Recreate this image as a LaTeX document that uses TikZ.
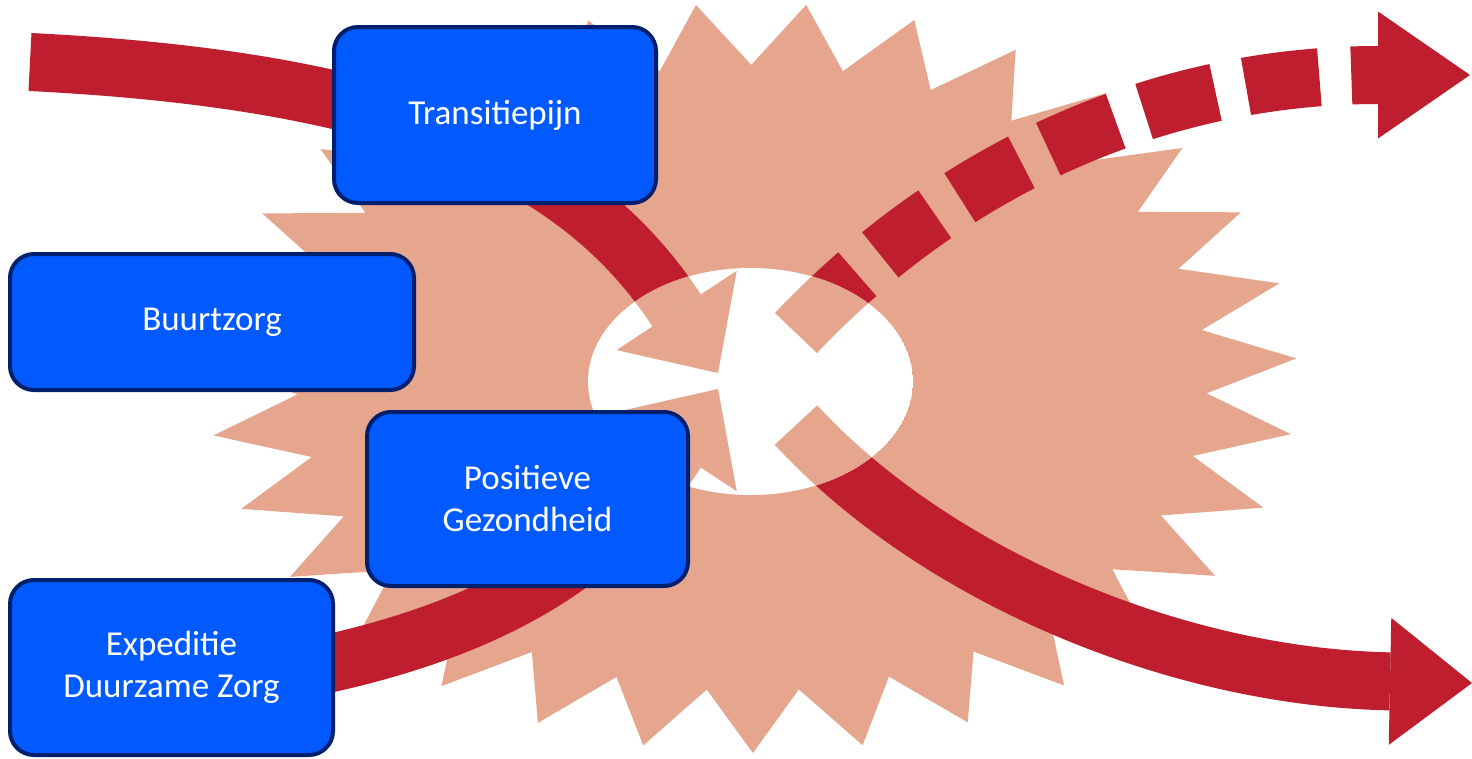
\documentclass[tikz,border=0pt]{standalone}
\usepackage{fontspec}
\setmainfont{Carlito}
\usetikzlibrary{arrows.meta}
\definecolor{flame}{RGB}{190,30,45}
\definecolor{burst}{RGB}{230,166,142}
\definecolor{cardfill}{RGB}{0,90,255}
\definecolor{cardline}{RGB}{0,32,110}

\newcommand{\drawflows}[1]{%
  \draw[flow,color=#1,-{Triangle[length=75pt,width=144pt,line width=0pt]}] (topIn) .. controls (410,81) and (580,164) .. (topHit);
  \draw[flow,color=#1,-{Triangle[length=75pt,width=144pt,line width=0pt]}] (lowIn) .. controls (410,681) and (580,598) .. (lowHit);
  \draw[flow,color=#1,dash pattern=on 85pt off 30pt on 68pt off 30pt on 71pt off 30pt on 73pt off 30pt on 74pt off 31pt on 74pt off 32pt on 200pt,-{Triangle[length=92pt,width=127pt,line width=0pt]}] (upFrom) .. controls (960,160) and (1170,75) .. (upTo);
  \draw[flow,color=#1,-{Triangle[length=82pt,width=127pt,line width=0pt]}] (downFrom) .. controls (932,573) and (1172,677) .. (downTo);
}

\begin{document}
\begin{tikzpicture}[x=1pt,y=-1pt,
    flow/.style={line width=58pt},
    card/.style={draw=cardline,line width=4pt,fill=cardfill,rounded corners=24pt,text=white,
      font=\fontsize{35}{42}\selectfont,align=center,inner sep=0pt}]
    \useasboundingbox (0,0) rectangle (1472,758);
    \fill[white] (0,0) rectangle (1472,758);
    \coordinate (eye) at (750.5,381.5);
    \coordinate (topIn) at (30,62);
    \coordinate (topHit) at (718,373);
    \coordinate (lowIn) at (30,700);
    \coordinate (lowHit) at (718,389);
    \coordinate (upFrom) at (796,333);
    \coordinate (upTo) at (1470,75);
    \coordinate (downFrom) at (796,425);
    \coordinate (downTo) at (1472,683);
    \fill[burst] (1296.3,358.4) \foreach \k [evaluate=\k as \r using {1-0.165*mod(\k,2)}] in {1,...,61} {
        -- ({752+545*\r*cos(-3+\k*180/31)},{378+375*\r*sin(-3+\k*180/31)})} -- cycle;
    \drawflows{flame}
    \begin{scope}
        \clip (eye) ellipse [x radius=162.5pt,y radius=113.5pt];
        \fill[white] (eye) ellipse [x radius=162.5pt,y radius=113.5pt];
        \drawflows{burst}
    \end{scope}
    \node[card,minimum width=322pt,minimum height=176pt] (transitie) at (495,115) {Transitiepijn};
    \node[card,minimum width=404pt,minimum height=136pt] (buurtzorg) at (212,322) {Buurtzorg};
    \node[card,minimum width=321pt,minimum height=174pt] (positief) at (527.5,499) {Positieve\\Gezondheid};
    \node[card,minimum width=323pt,minimum height=175pt] (expeditie) at (171.5,667.5) {Expeditie\\Duurzame Zorg};
\end{tikzpicture}
\end{document}
